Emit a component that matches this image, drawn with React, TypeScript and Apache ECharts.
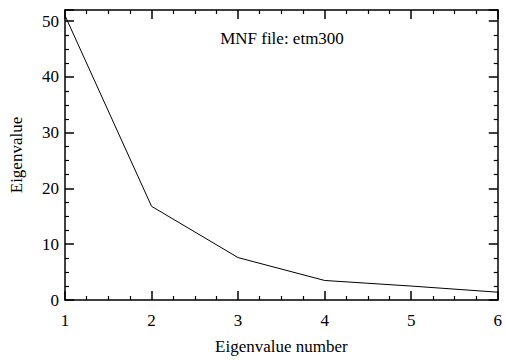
import React, { useEffect, useRef } from "react";
import * as echarts from "echarts";

const eigenNumbers = [1, 2, 3, 4, 5, 6];
const eigenValues = [51, 16.8, 7.6, 3.5, 2.5, 1.4];
const yTickLabels = ["0", "10", "20", "30", "40", "50"];
const titleText = "MNF file: etm300";
const xName = "Eigenvalue number";
const yName = "Eigenvalue";

const FONT = "'Liberation Serif', 'DejaVu Serif', serif";

export default function App() {
  const ref = useRef<HTMLDivElement>(null);
  useEffect(() => {
    if (!ref.current) return;
    const chart = echarts.init(ref.current, null, { renderer: "svg" });
    const axisCommon = {
      axisLine: { show: true, onZero: false, lineStyle: { color: "#000", width: 1.5 } },
      axisTick: { show: true, inside: true, length: 9, lineStyle: { color: "#000", width: 1.5 } },
      minorTick: { show: true, splitNumber: 4, length: 4, lineStyle: { color: "#000", width: 1.2 } },
      splitLine: { show: false },
    };
    chart.setOption({
      animation: false,
      backgroundColor: "#fff",
      grid: { left: 62, right: 5, top: 10, bottom: 58, containLabel: false },
      graphic: [
        {
          type: "text",
          x: 282,
          y: 38,
          style: {
            text: titleText,
            fill: "#000",
            fontFamily: FONT,
            fontSize: 17,
            align: "center",
            verticalAlign: "middle",
          },
        },
      ],
      xAxis: [
        {
          ...axisCommon,
          type: "value",
          min: 1,
          max: 6,
          interval: 1,
          position: "bottom",
          name: xName,
          nameLocation: "middle",
          nameGap: 38,
          nameTextStyle: { color: "#000", fontFamily: FONT, fontSize: 17 },
          axisLabel: { color: "#000", fontFamily: FONT, fontSize: 17, margin: 12 },
        },
        {
          ...axisCommon,
          type: "value",
          min: 1,
          max: 6,
          interval: 1,
          position: "top",
          axisLabel: { show: false },
        },
      ],
      yAxis: [
        {
          ...axisCommon,
          type: "value",
          min: 0,
          max: 52,
          interval: 10,
          position: "left",
          name: yName,
          nameLocation: "middle",
          nameGap: 40,
          nameTextStyle: { color: "#000", fontFamily: FONT, fontSize: 17 },
          axisLabel: {
            color: "#000",
            fontFamily: FONT,
            fontSize: 17,
            margin: 6,
            formatter: (v: number) => {
              const i = yTickLabels.indexOf(String(v));
              return i >= 0 ? yTickLabels[i] : "";
            },
          },
        },
        {
          ...axisCommon,
          type: "value",
          min: 0,
          max: 52,
          interval: 10,
          position: "right",
          axisLabel: { show: false },
        },
      ],
      series: [
        {
          type: "line",
          data: eigenNumbers.map((n, i) => [n, eigenValues[i]]),
          symbol: "none",
          lineStyle: { color: "#000", width: 1 },
          xAxisIndex: 0,
          yAxisIndex: 0,
        },
      ],
    });
    return () => chart.dispose();
  }, []);
  return (
    <div
      ref={ref}
      style={{ position: "fixed", left: 0, top: 0, width: 505, height: 360 }}
    />
  );
}
